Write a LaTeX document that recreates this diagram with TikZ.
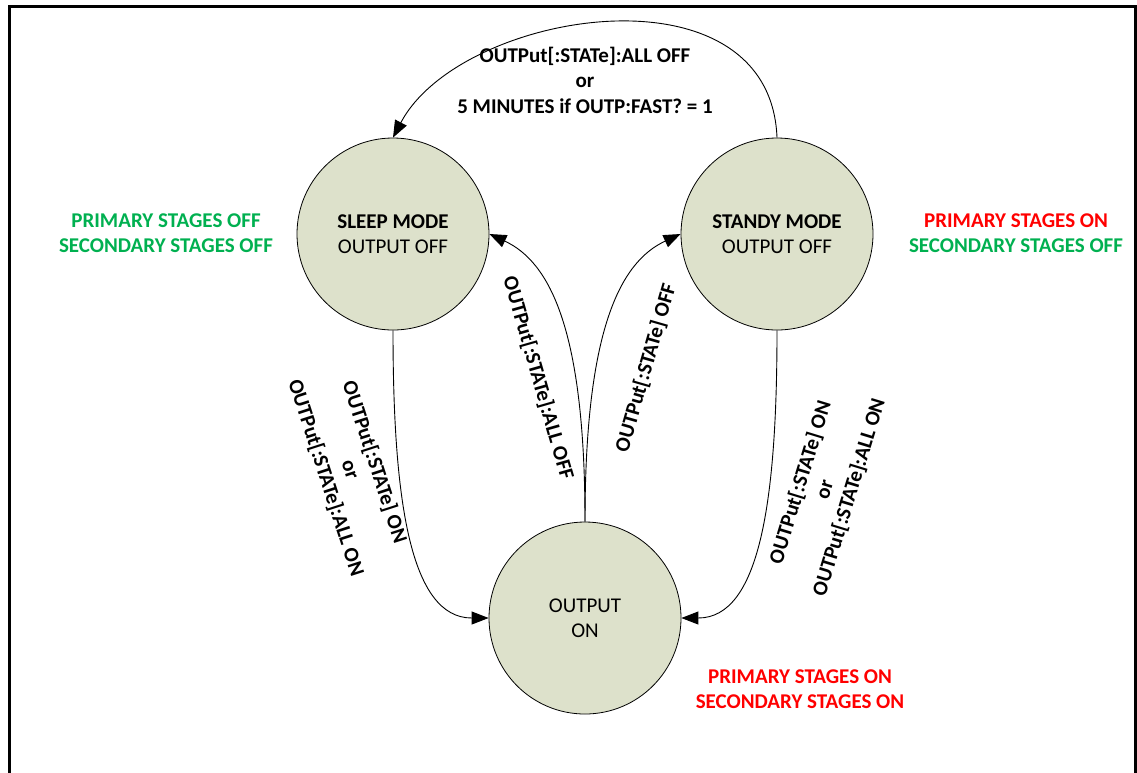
\documentclass[tikz,border=0pt]{standalone}
\usepackage{fontspec}
\setmainfont{Carlito}
\usetikzlibrary{arrows.meta}
\definecolor{stfill}{RGB}{221,225,203}
\definecolor{okgreen}{RGB}{0,176,80}
\definecolor{onred}{RGB}{255,0,0}
\begin{document}
\begin{tikzpicture}[x=1pt,y=-1pt,
  state/.style={circle,draw=black,line width=0.8pt,fill=stfill,minimum size=192pt,inner sep=0pt,align=center,font=\fontsize{21}{25.5}\selectfont},
  trans/.style={draw=black,line width=0.9pt,-{Triangle[length=17pt,width=13pt]}},
  lbl/.style={align=center,inner sep=0pt,font=\fontsize{21}{25.5}\selectfont\bfseries},
  frame/.style={draw=black,line width=3pt}
]
\useasboundingbox (0,0) rectangle (1137,772);
\clip (0,0) rectangle (1137,772);
\draw[frame] (9.5,6.5) rectangle (1135.5,800);

\node[state] (sleep) at (393,234) {\textbf{SLEEP MODE}\\OUTPUT OFF};
\node[state] (stby) at (777,234) {\textbf{STANDY MODE}\\OUTPUT OFF};
\node[state] (out) at (585,618) {OUTPUT\\ON};

\draw[trans] (stby.north) .. controls (770,-40) and (460,10) .. (sleep.north);
\draw[trans] (sleep.south) .. controls (393,500) and (410,618) .. (out.west);
\draw[trans] (stby.south) .. controls (777,500) and (760,618) .. (out.east);
\draw[trans] (out.north) .. controls (585,330) and (550,262) .. (sleep.east);
\draw[trans] (out.north) .. controls (585,330) and (620,262) .. (stby.west);

\node[lbl] (ltop) at (585,80) {OUTPut[:STATe]:ALL OFF\\or\\5 MINUTES if OUTP:FAST? = 1};
\node[lbl,rotate=-72] (lsleepout) at (350,470) {OUTPut[:STATe] ON\\or\\OUTPut[:STATe]:ALL ON};
\node[lbl,rotate=-74] (loutsleep) at (538,378) {OUTPut[:STATe]:ALL OFF};
\node[lbl,rotate=74] (loutstby) at (646,368) {OUTPut[:STATe] OFF};
\node[lbl,rotate=73] (lstbyout) at (825,490) {OUTPut[:STATe] ON\\or\\OUTPut[:STATe]:ALL ON};

\node[lbl] (sleepinfo) at (166,233) {\textcolor{okgreen}{PRIMARY STAGES OFF}\\\textcolor{okgreen}{SECONDARY STAGES OFF}};
\node[lbl] (stbyinfo) at (1016,233) {\textcolor{onred}{PRIMARY STAGES ON}\\\textcolor{okgreen}{SECONDARY STAGES OFF}};
\node[lbl] (outinfo) at (800,689) {\textcolor{onred}{PRIMARY STAGES ON}\\\textcolor{onred}{SECONDARY STAGES ON}};
\end{tikzpicture}
\end{document}
